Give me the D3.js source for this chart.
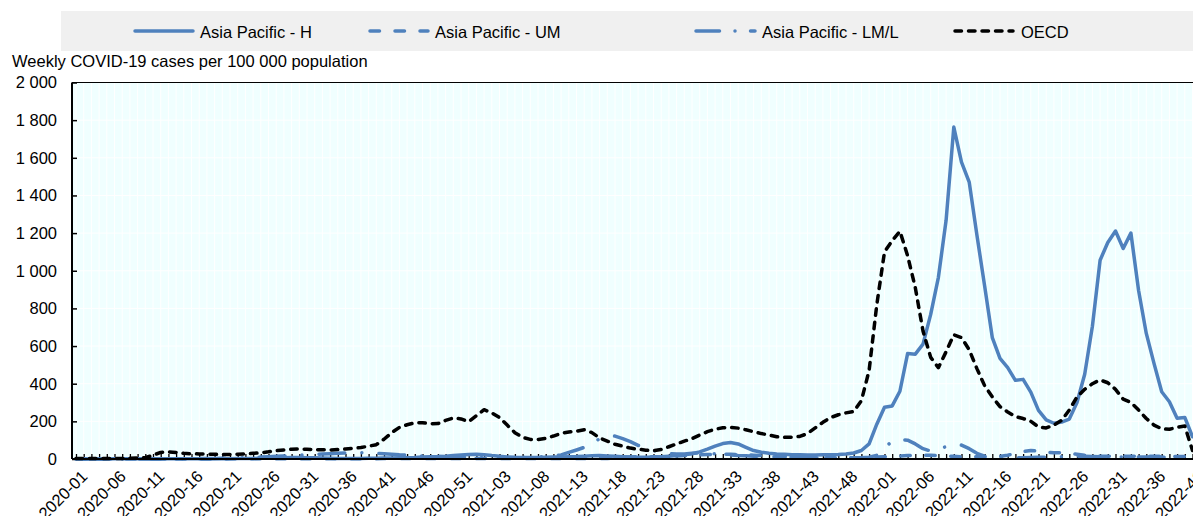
<!DOCTYPE html>
<html><head><meta charset="utf-8">
<script src="https://cdn.jsdelivr.net/npm/d3@7"></script>
<style>body{margin:0;background:#fff}svg{display:block}text{font-family:"Liberation Sans",Arial,sans-serif;fill:#000}</style>
</head><body><svg id="c" width="1193" height="516"></svg>
<script>
// ISO weeks per year shown
const yearWeeks = [[2020,53],[2021,52],[2022,41]];
const weeks = [];
yearWeeks.forEach(([yr,n])=>{for(let w=1;w<=n;w++)weeks.push(yr+"-"+String(w).padStart(2,"0"));});
const tickLabels = ["2020-01","2020-06","2020-11","2020-16","2020-21","2020-26","2020-31","2020-36","2020-41","2020-46","2020-51","2021-03","2021-08","2021-13","2021-18","2021-23","2021-28","2021-33","2021-38","2021-43","2021-48","2022-01","2022-06","2022-11","2022-16","2022-21","2022-26","2022-31","2022-36","2022-41"];
const yTicks = [0,200,400,600,800,1000,1200,1400,1600,1800,2000];
const seriesNames = ["Asia Pacific - H","Asia Pacific - UM","Asia Pacific - LM/L","OECD"];

const apH = [0,0,0,0,0,1,1,1,1,1, 1,1,1,1,1,1,1,1,1,1, 1,2,2,3,4,5,6,7,8,8, 7,6,5,4,3,3,3,3,4,4,
 5,5,6,7,8,10,12,13,15,18, 21,24,25,23,18,14,11,9,8,8, 8,9,10,11,12,13,15,17,18,16, 14,12,10,9,9,10,12,15,18,22,
 28,38,52,68,82,88,80,62,45,36, 30,27,25,23,22,21,21,22,23,24, 27,32,45,80,185,275,282,360,560,557,
 610,768,965,1268,1763,1577,1471,1190,920,645, 534,485,418,423,355,258,208,190,196,212,
 300,450,705,1056,1150,1211,1118,1200,895,667, 508,357,304,216,221,118];
const apUM = [0,0,0,0,0,0,0,0,0,0, 0,0,0,0,0,0,0,0,0,0, 1,1,1,1,1,1,1,1,1,1, 1,1,1,1,1,1,1,1,1,1,
 2,2,2,2,2,2,2,2,2,2, 2,2,2,2,2,2,2,2,2,2, 3,3,3,3,3,3,3,3,3,3, 6,8,10,12,12,12,12,14,16,18,
 20,22,24,25,25,25,24,22,20,18, 16,14,12,10,9,8,8,7,7,7, 7,7,7,8,10,12,14,16,18,20,
 20,20,18,16,14,12,12,12,12,12, 14,20,30,40,45,42,36,33,33,30,
 25,20,18,16,15,15,15,14,14,14, 14,14,14,13,13,10];
const apLML = [0,0,0,0,0,0,0,0,0,0, 0.3,0.5,0.6,0.8,1,1.5,2,2.5,3,4, 5,6,7,8,10,12,14,16,18,20, 22,24,26,28,30,32,33,33,32,30,
 28,25,22,20,18,16,14,13,12,11, 10,9,8,7,6,6,6,6,7,9, 11,13,16,22,35,48,62,88,106,118, 122,108,92,72,60,45,35,29,26,27,
 30,33,32,28,25,22,19,17,15,14, 12,11,10,9,8,7,6,6,6,6, 6,6,7,9,20,60,95,103,100,80,
 55,42,55,65,76,74,55,30,15,10, 8,7,7,7,8,9,10,11,12,13,
 14,14,13,12,11,10,10,10,10,10, 10,10,9,9,9,8];
const oecd = [2,2,2,2,3,3,3,4,5,7, 20,35,38,35,30,28,27,26,25,24, 24,25,27,30,33,38,44,48,52,53, 52,50,49,48,50,53,57,61,68,76,
 105,140,168,182,192,193,187,188,205,218, 213,198,230,262,245,220,180,140,115,104, 103,110,122,136,143,148,155,140,112,95,
 78,68,58,52,47,44,50,65,80,95, 108,127,145,158,166,168,164,155,145,135, 128,118,115,116,120,135,165,195,220,235,
 245,252,310,470,820,1100,1160,1210,1080,910, 680,540,485,570,660,645,580,480,390,330,
 278,250,225,215,200,170,165,180,205,260, 330,370,400,420,405,370,318,300,260,215, 180,160,158,168,175,45];

(function(){
const svg = d3.select("#c");
const W=1193,H=516;
svg.append("rect").attr("width",W).attr("height",H).attr("fill","#fff");
const pL=72, pR=1193, pT=82.5, pB=459;
const x = d3.scalePoint().domain(weeks).range([76,1192.5]);
const y = d3.scaleLinear().domain([0,2000]).range([pB,pT]);
const FS=16.5;
const blue="#4f81bd";

svg.append("rect").attr("x",pL).attr("y",pT).attr("width",pR-pL).attr("height",pB-pT).attr("fill","#f0ffff");
svg.append("g").selectAll("line").data(weeks).join("line")
  .attr("x1",d=>x(d)).attr("x2",d=>x(d)).attr("y1",pT).attr("y2",pB)
  .attr("stroke","#fff").attr("stroke-width",1);
svg.append("g").selectAll("line").data(yTicks.slice(1)).join("line")
  .attr("x1",pL).attr("x2",pR).attr("y1",d=>y(d)).attr("y2",d=>y(d))
  .attr("stroke","#fff").attr("stroke-width",1);

const xAxis = d3.axisBottom(x).tickValues(weeks).tickSize(-5).tickFormat("");
const gx = svg.append("g").attr("transform",`translate(0,${pB})`).call(xAxis);
gx.select(".domain").remove();
gx.selectAll(".tick line").attr("stroke","#000").attr("stroke-width",1.3);
const yAxis = d3.axisLeft(y).tickValues(yTicks).tickSize(-5).tickFormat("");
const gy = svg.append("g").attr("transform",`translate(${pL},0)`).call(yAxis);
gy.select(".domain").remove();
gy.selectAll(".tick line").attr("stroke","#000").attr("stroke-width",1.5);

const fmt = v => d3.format(",")(v).replace(/,/g," ");
svg.append("g").selectAll("text").data(yTicks).join("text")
  .attr("x",57).attr("y",d=>y(d))
  .attr("dy","0.36em").attr("text-anchor","end").attr("font-size",FS).text(fmt);
svg.append("g").selectAll("text").data(tickLabels).join("text")
  .attr("transform",d=>`translate(${x(d)+4},469) rotate(-45)`)
  .attr("dy","0.72em").attr("text-anchor","end").attr("font-size",FS).text(d=>d);

const line = d3.line().x((d,i)=>x(weeks[i])).y(d=>y(d));
const styles = [
  {data:apH, color:blue, dash:null},
  {data:apUM, color:blue, dash:"9.5,15.5"},
  {data:apLML, color:blue, dash:"23.5,15.5,0.01,15.5", parts:[23.5,15.5,0.01,15.5], dots:[598,889], dotAt:39},
  {data:oecd, color:"#000", dash:"6.5,7"}
];
function lenAtX(node, X){
  let lo=0, hi=node.getTotalLength();
  for(let k=0;k<40;k++){const m=(lo+hi)/2; if(node.getPointAtLength(m).x<X) lo=m; else hi=m;}
  return lo;
}
styles.forEach(s=>{
  const p = svg.append("path").datum(s.data).attr("d",line).attr("fill","none")
    .attr("stroke",s.color).attr("stroke-width",3.5).attr("stroke-linecap","round").attr("stroke-linejoin","round")
    .attr("stroke-dasharray",s.dash);
  if (s.dots){
    const node=p.node();
    const l1=lenAtX(node,s.dots[0]), l2=lenAtX(node,s.dots[1]);
    const base=s.parts.reduce((a,b)=>a+b,0);
    const n=Math.max(1,Math.round((l2-l1)/base));
    const k=((l2-l1)/n)/base;
    const parts=s.parts.map(v=>v*k), per=base*k, at=s.dotAt*k;
    p.attr("stroke-dasharray",parts.join(","))
     .attr("stroke-dashoffset",((at-l2)%per+per)%per);
  }
});

svg.append("line").attr("x1",pL).attr("x2",pR).attr("y1",pB).attr("y2",pB).attr("stroke","#000").attr("stroke-width",2);
svg.append("line").attr("x1",pL).attr("x2",pL).attr("y1",pT).attr("y2",pB).attr("stroke","#000").attr("stroke-width",2);
svg.append("line").attr("x1",pL).attr("x2",pR).attr("y1",pT).attr("y2",pT).attr("stroke","#000").attr("stroke-width",1);

svg.append("text").attr("x",12).attr("y",67).attr("font-size",FS)
  .text("Weekly COVID-19 cases per 100 000 population");

svg.append("rect").attr("x",61).attr("y",11).attr("width",W-61).attr("height",40).attr("fill","#f0f0f0");
const legX = [[133,195,200],[368,430,435],[694,757,762],[953,1015,1021]];
styles.forEach((s,i)=>{
  const [a,b,t]=legX[i];
  svg.append("line").attr("x1",a+2).attr("x2",b-2).attr("y1",31).attr("y2",31)
    .attr("stroke",s.color).attr("stroke-width",3.5).attr("stroke-linecap","round").attr("stroke-dasharray",s.dash);
  svg.append("text").attr("x",t).attr("y",37.5).attr("font-size",FS).text(seriesNames[i]);
});
})();
</script></body></html>
